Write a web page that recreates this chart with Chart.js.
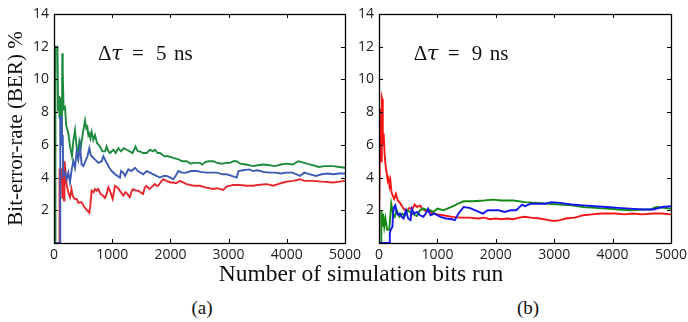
<!DOCTYPE html>
<html>
<head>
<meta charset="utf-8">
<script src="https://cdn.jsdelivr.net/npm/chart.js@4"></script>
<style>
  body { margin: 0; background: #fff; width: 688px; height: 322px; position: relative; overflow: hidden; }
  canvas { position: absolute; top: 0; }
  #panelA { left: 0; }
  #panelB { left: 336px; }
  .lbl { position: absolute; font-family: "Liberation Serif", serif; color: #111; white-space: nowrap; text-align: center; }
</style>
</head>
<body>
<canvas id="panelA" width="362" height="266"></canvas>
<canvas id="panelB" width="352" height="266"></canvas>
<div class="lbl" style="left:0; width:722px; top:262px; font-size:23.5px; line-height:23px;">Number of simulation bits run</div>
<div class="lbl" style="left:152px; width:100px; top:298px; font-size:19px; line-height:19px;">(a)</div>
<div class="lbl" style="left:478px; width:100px; top:298px; font-size:19px; line-height:19px;">(b)</div>
<script>
// x ticks / y ticks
const xTicks = [0, 1000, 2000, 3000, 4000, 5000];
const yTicks = [0, 2, 4, 6, 8, 10, 12, 14];

// panel (a), delta tau = 5 ns : [bits run, BER %]
const a5Green = [[0,0],[22,0],[25,12],[60,12],[70,8.1],[85,9.0],[95,7.6],[105,8.9],[115,7.4],[125,8.5],[135,6.7],
  [143,11.6],[150,10.5],[165,8.2],[189,8.3],[210,7.2],[246,6.7],[280,5.8],[309,5.3],[330,6.2],[361,6.9],[385,6.0],
  [407,5.4],[435,6.2],[458,5.8],[490,6.6],[533,7.5],[555,7.0],[573,7.1],[590,6.6],[607,6.7],[625,6.4],[647,6.8],
  [676,6.3],[705,6.6],[740,6.1],[790,5.9],[830,5.6],[876,5.6],[905,5.9],[935,5.6],[962,5.5],[1019,5.7],[1060,5.5],
  [1105,5.8],[1150,5.6],[1200,5.8],[1248,5.7],[1300,5.6],[1350,5.5],[1400,5.9],[1440,5.6],[1478,5.6],[1530,5.5],
  [1592,5.5],[1650,5.7],[1700,5.6],[1735,5.7],[1780,5.5],[1821,5.5],[1900,5.3],[1960,5.3],[2050,5.2],[2150,5.1],
  [2200,5.0],[2279,5.0],[2350,4.85],[2400,4.9],[2509,4.9],[2550,4.8],[2600,4.95],[2650,5.0],[2737,5.0],[2800,4.9],
  [2880,4.85],[2967,4.9],[3024,4.9],[3080,5.0],[3139,5.0],[3200,4.85],[3300,4.8],[3423,4.7],[3500,4.75],[3600,4.8],
  [3700,4.75],[3800,4.7],[3900,4.8],[3998,4.85],[4100,4.8],[4200,5.0],[4300,4.9],[4458,4.75],[4550,4.65],[4650,4.7],
  [4802,4.7],[4900,4.65],[5000,4.6]];
const a5Blue = [[0,0],[104,0],[108,7.7],[130,7.7],[140,6.0],[150,6.6],[160,4.1],[190,4.3],[218,3.9],[246,4.3],
  [275,3.7],[304,4.5],[332,5.0],[361,4.6],[389,5.6],[418,5.1],[447,5.9],[475,4.8],[504,4.7],[540,5.0],[575,5.3],
  [607,5.8],[630,5.4],[647,5.3],[705,5.1],[762,4.9],[819,5.0],[848,5.3],[876,5.1],[905,4.9],[950,4.6],[991,4.4],
  [1048,4.2],[1134,4.0],[1151,4.4],[1190,4.3],[1220,4.1],[1277,4.5],[1330,4.4],[1392,4.6],[1440,4.4],[1535,4.2],
  [1592,4.4],[1650,4.3],[1707,4.2],[1760,4.1],[1821,4.0],[1880,4.1],[1936,4.1],[2000,4.0],[2050,3.9],[2090,4.1],
  [2136,4.4],[2200,4.3],[2279,4.3],[2350,4.4],[2451,4.4],[2520,4.35],[2623,4.3],[2700,4.3],[2800,4.3],[2900,4.2],
  [2967,4.2],[3050,4.1],[3139,4.0],[3170,4.4],[3250,4.45],[3350,4.5],[3423,4.4],[3500,4.45],[3600,4.35],[3700,4.3],
  [3800,4.3],[3900,4.25],[3998,4.3],[4100,4.3],[4228,4.1],[4300,4.3],[4400,4.2],[4500,4.1],[4600,4.2],[4700,4.25],
  [4800,4.2],[4900,4.25],[5000,4.25]];
const a5Red = [[0,0],[92,0],[95,4.5],[130,4.5],[145,2.7],[160,5.0],[172,2.6],[180,5.0],[200,4.3],[215,3.6],
  [245,3.1],[275,2.8],[300,3.3],[320,2.9],[350,2.7],[390,2.7],[420,2.45],[470,2.5],[520,2.2],[570,2.0],[607,1.85],
  [625,2.3],[647,3.2],[680,3.1],[705,3.3],[733,3.2],[760,3.3],[800,3.0],[840,2.9],[876,2.75],[905,3.0],[934,3.4],
  [960,3.2],[1008,2.7],[1048,3.5],[1090,3.4],[1130,3.2],[1191,2.9],[1230,3.1],[1260,3.0],[1302,2.8],[1340,3.2],
  [1359,3.3],[1400,3.2],[1445,3.2],[1531,3.0],[1560,3.4],[1588,3.5],[1640,3.3],[1674,3.4],[1732,3.6],[1760,3.5],
  [1789,3.5],[1830,3.7],[1875,3.9],[1932,3.8],[2000,3.7],[2047,3.7],[2100,3.65],[2162,3.8],[2220,3.7],[2276,3.6],
  [2400,3.5],[2506,3.5],[2600,3.4],[2735,3.3],[2800,3.35],[2907,3.25],[2964,3.45],[3079,3.55],[3194,3.55],
  [3300,3.5],[3423,3.5],[3500,3.55],[3653,3.6],[3767,3.5],[3850,3.6],[3939,3.7],[4000,3.75],[4111,3.8],[4226,3.9],
  [4300,3.8],[4455,3.8],[4600,3.75],[4799,3.7],[4900,3.75],[5000,3.8]];

// panel (b), delta tau = 9 ns
const b9Blue = [[0,0],[180,0],[185,0.6],[200,0.8],[230,1.0],[240,1.8],[258,2.2],[280,2.3],[300,1.9],[330,1.7],
  [360,1.8],[390,1.6],[420,1.5],[460,2.0],[500,1.5],[540,1.4],[560,2.1],[600,1.8],[650,1.9],[700,1.7],[760,1.6],
  [800,1.8],[840,2.1],[880,1.7],[950,1.8],[1050,1.6],[1150,1.5],[1250,1.45],[1300,1.4],[1360,1.8],[1450,2.2],
  [1550,2.15],[1650,2.0],[1780,1.8],[1860,2.0],[1950,2.0],[2050,2.0],[2150,1.9],[2250,2.0],[2350,2.0],[2450,2.35],
  [2500,2.25],[2600,2.4],[2750,2.4],[2850,2.4],[2950,2.5],[3100,2.45],[3300,2.35],[3500,2.3],[3700,2.25],[3900,2.2],
  [4100,2.15],[4300,2.1],[4500,2.05],[4700,2.05],[4850,2.2],[5000,2.25]];
const b9Green = [[0,0],[35,0],[40,2.0],[55,1.0],[70,1.8],[90,1.0],[110,1.5],[140,0.8],[175,0.8],[210,2.4],[240,1.8],
  [270,1.6],[305,2.0],[350,1.6],[400,1.8],[440,1.65],[490,2.0],[560,1.8],[650,1.65],[700,2.0],[760,2.1],[830,2.0],
  [870,2.0],[930,1.9],[1000,2.1],[1100,2.0],[1200,2.15],[1300,2.3],[1350,2.4],[1450,2.55],[1600,2.55],[1800,2.6],
  [1950,2.65],[2100,2.6],[2300,2.6],[2500,2.5],[2700,2.45],[2900,2.4],[3100,2.35],[3300,2.3],[3500,2.2],[3700,2.15],
  [3900,2.1],[4100,2.05],[4300,2.0],[4500,2.05],[4650,2.05],[4750,2.2],[5000,2.1]];
const b9Red = [[0,0],[15,0],[20,7.9],[30,8.2],[40,5.0],[48,8.9],[55,8.8],[65,6.0],[80,6.7],[95,5.5],[110,4.8],
  [135,4.2],[150,3.8],[165,3.95],[180,3.5],[195,3.8],[215,3.1],[235,2.9],[260,2.7],[290,3.0],[320,2.6],[360,2.45],
  [420,2.1],[470,1.95],[520,2.15],[570,2.05],[610,2.35],[650,2.2],[700,2.3],[740,2.1],[800,1.95],[900,1.85],
  [1000,1.75],[1100,1.7],[1250,1.6],[1400,1.55],[1550,1.55],[1700,1.5],[1800,1.55],[1900,1.45],[2000,1.5],
  [2100,1.45],[2200,1.5],[2300,1.45],[2400,1.55],[2500,1.6],[2600,1.55],[2750,1.5],[2900,1.4],[3000,1.35],
  [3100,1.4],[3200,1.5],[3350,1.55],[3500,1.7],[3650,1.75],[3800,1.8],[3900,1.8],[4050,1.8],[4200,1.75],
  [4350,1.8],[4500,1.75],[4700,1.8],[4850,1.8],[5000,1.75]];

const toXY = pts => pts.map(p => ({ x: p[0], y: p[1] }));

// inward ticks on all four sides plus the black frame
const frameTicks = {
  id: 'frameTicks',
  afterDatasetsDraw(chart) {
    const { ctx, chartArea: a, scales: { x, y } } = chart;
    ctx.save();
    ctx.strokeStyle = '#000';
    ctx.lineWidth = 1;
    ctx.beginPath();
    x.ticks.forEach(t => {
      const px = Math.round(x.getPixelForValue(t.value)) + 0.5;
      ctx.moveTo(px, a.bottom); ctx.lineTo(px, a.bottom - 4);
      ctx.moveTo(px, a.top); ctx.lineTo(px, a.top + 4);
    });
    y.ticks.forEach(t => {
      const py = Math.round(y.getPixelForValue(t.value)) + 0.5;
      ctx.moveTo(a.left, py); ctx.lineTo(a.left + 4, py);
      ctx.moveTo(a.right, py); ctx.lineTo(a.right - 4, py);
    });
    ctx.stroke();
    ctx.lineWidth = 1.3;
    ctx.strokeRect(Math.round(a.left) + 0.5, Math.round(a.top) + 0.5,
      Math.round(a.right - a.left), Math.round(a.bottom - a.top));
    ctx.restore();
  }
};

// "Δτ = N ns" label, placed in data units
const tauLabel = {
  id: 'tauLabel',
  afterDraw(chart, args, opts) {
    const { ctx, scales: { x, y } } = chart;
    const x0 = x.getPixelForValue(opts.x);
    const y0 = y.getPixelForValue(opts.y);
    ctx.save();
    ctx.fillStyle = '#111';
    ctx.textBaseline = 'alphabetic';
    ctx.font = '21px "Liberation Serif"';
    ctx.fillText('\u0394', x0, y0);
    ctx.fillText('=', x0 + 34, y0);
    ctx.fillText(opts.value, x0 + 58, y0);
    ctx.fillText('ns', x0 + 76, y0);
    ctx.font = 'italic 21px "DejaVu Serif"';
    ctx.fillText('\u03c4', x0 + 13, y0);
    ctx.restore();
  }
};

function makePanel(id, series, colors, label, yTitle, yWidth, rightPad) {
  const tickFont = { family: 'Open Sans', size: 14 };
  return new Chart(document.getElementById(id), {
    type: 'line',
    data: {
      datasets: series.map((s, i) => ({
        data: toXY(s),
        borderColor: colors[i],
        borderWidth: 1.9,
        pointRadius: 0,
        tension: 0,
        fill: false
      }))
    },
    options: {
      responsive: false,
      animation: false,
      layout: { padding: { top: 14, right: rightPad, left: 0, bottom: 0 } },
      plugins: {
        legend: { display: false },
        tooltip: { enabled: false },
        tauLabel: label
      },
      scales: {
        x: {
          type: 'linear', min: 0, max: 5000,
          afterBuildTicks: s => { s.ticks = xTicks.map(v => ({ value: v })); },
          ticks: { padding: 4, color: '#222', font: tickFont, maxRotation: 0, autoSkip: false, callback: v => String(v) },
          grid: { display: false, drawTicks: false },
          border: { display: false },
          afterFit: s => { s.height = 23; s.paddingLeft = 0; s.paddingRight = 0; }
        },
        y: {
          type: 'linear', min: 0, max: 14,
          afterBuildTicks: s => { s.ticks = yTicks.map(v => ({ value: v })); },
          ticks: { padding: 5, color: '#222', font: tickFont, callback: v => (v === 0 ? '' : String(v)), autoSkip: false },
          grid: { display: false, drawTicks: false },
          border: { display: false },
          title: {
            display: !!yTitle, text: yTitle, color: '#111',
            font: { family: 'Liberation Serif', size: 21 },
            padding: { top: 4, bottom: 0 }
          },
          afterFit: s => { s.width = yWidth; s.paddingTop = 0; s.paddingBottom = 0; }
        }
      }
    },
    plugins: [frameTicks, tauLabel]
  });
}

makePanel('panelA', [a5Blue, a5Green, a5Red], ['#3d5bb5', '#1e8a3e', '#e8262b'],
  { x: 756, y: 11.2, value: '5' }, 'Bit-error-rate (BER) %', 54, 17);
makePanel('panelB', [b9Blue, b9Green, b9Red], ['#1515f0', '#148a14', '#f51515'],
  { x: 595, y: 11.2, value: '9' }, '', 43, 17);
</script>
</body>
</html>
